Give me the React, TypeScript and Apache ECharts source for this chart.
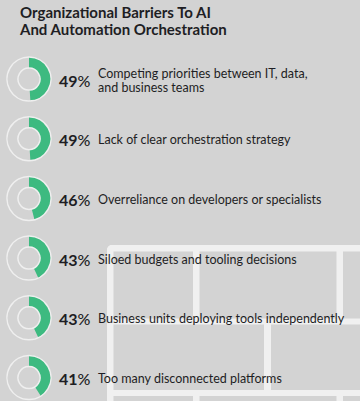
import React, { useEffect, useRef } from "react";
import * as echarts from "echarts";

const titleLines = ["Organizational Barriers To AI", "And Automation Orchestration"];
const categories = [
  "Competing priorities between IT, data,\nand business teams",
  "Lack of clear orchestration strategy",
  "Overreliance on developers or specialists",
  "Siloed budgets and tooling decisions",
  "Business units deploying tools independently",
  "Too many disconnected platforms",
];
const values = [49, 49, 46, 43, 43, 41];

const BG = "#d3d3d3";
const GREEN = "#3dba80";
const LINE = "#f0f0f0";
const TEXT = "#1e1e24";
const FONT = "Lato, 'Open Sans', sans-serif";

export default function App() {
  const ref = useRef<HTMLDivElement>(null);
  useEffect(() => {
    document.body.style.margin = "0";
    if (!ref.current) return;
    const chart = echarts.init(ref.current, null, { renderer: "svg" });
    const cx = 29;
    const cy0 = 79;
    const step = 59.7;
    const rOut = 22;
    const rIn = 11;

    const series: any[] = [];
    values.forEach((v, i) => {
      const cy = cy0 + i * step;
      series.push({
        type: "pie",
        center: [cx, cy],
        radius: [rIn, rOut],
        startAngle: 90,
        clockwise: true,
        silent: true,
        label: { show: false },
        labelLine: { show: false },
        z: 2,
        data: [
          { value: v, itemStyle: { color: GREEN } },
          { value: 100 - v, itemStyle: { color: "transparent" } },
        ],
      });
      series.push({
        type: "pie",
        center: [cx, cy],
        radius: [rIn, rOut],
        silent: true,
        label: { show: false },
        labelLine: { show: false },
        z: 3,
        data: [
          {
            value: 1,
            itemStyle: { color: "transparent", borderColor: "#efefef", borderWidth: 1.5 },
          },
        ],
      });
    });

    // Decorative brick pattern
    const bricks: any[] = [
      { x: 107, y: 245, w: 253, h: 6.5, r: [5, 0, 0, 0] },
      { x: 107, y: 245, w: 6.5, h: 156, r: [5, 0, 0, 0] },
      { x: 193, y: 251, w: 6.5, h: 68, r: 0 },
      { x: 336.5, y: 251, w: 6.5, h: 68, r: 0 },
      { x: 107, y: 318.5, w: 253, h: 6, r: 0 },
      { x: 264, y: 324, w: 7, h: 67, r: 0 },
      { x: 107, y: 390, w: 253, h: 6, r: 0 },
      { x: 193, y: 396, w: 6.5, h: 5, r: 0 },
      { x: 336.5, y: 396, w: 6.5, h: 5, r: 0 },
    ].map((b) => ({
      type: "rect",
      shape: { x: b.x, y: b.y, width: b.w, height: b.h, r: b.r },
      style: { fill: LINE },
      z: 0,
      silent: true,
    }));

    const texts: any[] = [];
    titleLines.forEach((t, i) => {
      texts.push({
        type: "text",
        x: 20,
        y: 11.5 + i * 17,
        z: 10,
        style: {
          text: t,
          fill: TEXT,
          font: `bold 15px ${FONT}`,
          textVerticalAlign: "middle",
        },
      });
    });
    values.forEach((v, i) => {
      const cy = cy0 + i * step;
      texts.push({
        type: "text",
        x: 59,
        y: cy + 1,
        z: 10,
        style: {
          text: `{n|${v}}{p|%}`,
          rich: {
            n: { font: `bold 16px ${FONT}`, fill: TEXT },
            p: { font: `500 16px ${FONT}`, fill: TEXT },
          },
          textVerticalAlign: "middle",
        },
      });
      texts.push({
        type: "text",
        x: 98,
        y: cy + 1,
        z: 10,
        style: {
          text: categories[i],
          fill: TEXT,
          font: `12.5px ${FONT}`,
          lineHeight: 14,
          textVerticalAlign: "middle",
        },
      });
    });

    chart.setOption({
      animation: false,
      backgroundColor: BG,
      graphic: [...bricks, ...texts],
      series,
    });
    return () => chart.dispose();
  }, []);
  return <div ref={ref} style={{ width: 360, height: 401 }} />;
}
